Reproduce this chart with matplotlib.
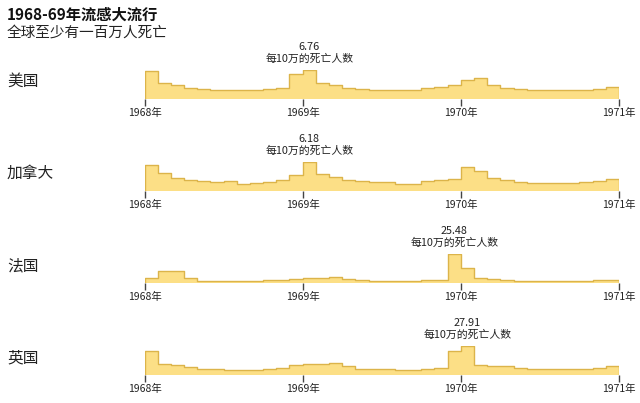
import numpy as np
import matplotlib.pyplot as plt

plt.rcParams['font.family'] = ['Noto Sans CJK SC', 'DejaVu Sans']

# 月度数据 1968年1月 - 1970年12月, 每10万的死亡人数
countries = ['美国', '加拿大', '法国', '英国']
us = [6.5, 3.75, 3.1, 2.5, 2.2, 2.1, 2.1, 2.1, 2.1, 2.3, 2.5, 5.9,
      6.76, 3.7, 3.2, 2.5, 2.2, 2.1, 2.1, 2.1, 2.1, 2.5, 2.8, 3.2,
      4.3, 4.8, 3.3, 2.5, 2.2, 2.0, 2.0, 2.0, 2.0, 2.1, 2.3, 2.8]
canada = [5.5, 3.8, 2.7, 2.2, 2.0, 1.75, 2.0, 1.5, 1.65, 1.9, 2.25, 3.4,
          6.18, 3.6, 2.9, 2.2, 2.0, 1.8, 1.8, 1.5, 1.5, 2.0, 2.2, 2.5,
          5.2, 4.2, 2.7, 2.2, 1.8, 1.6, 1.6, 1.6, 1.65, 1.9, 2.0, 2.4]
france = [3.7, 10.3, 10.3, 3.7, 1.6, 1.3, 1.3, 1.3, 1.3, 2.2, 2.5, 3.1,
          3.7, 4.0, 4.7, 3.1, 2.2, 1.3, 1.3, 1.3, 1.4, 1.9, 2.5, 25.48,
          13.0, 3.7, 3.1, 2.2, 1.6, 1.3, 1.3, 1.3, 1.3, 1.6, 1.9, 1.9]
uk = [23.4, 10.7, 9.7, 7.1, 5.5, 4.9, 4.5, 4.5, 4.5, 5.5, 6.5, 9.4,
      10.7, 10.4, 11.4, 8.1, 5.8, 5.5, 4.9, 4.5, 4.5, 5.2, 6.5, 22.7,
      27.91, 9.4, 8.8, 8.4, 6.5, 5.8, 5.5, 5.2, 5.2, 5.8, 6.5, 8.1]
series = [us, canada, france, uk]
year_labels = ['1968年', '1969年', '1970年', '1971年']

fill_c = '#fcdf86'
edge_c = '#dcb44a'
W, H = 640, 403

fig = plt.figure(figsize=(6.4, 4.03), dpi=100)
fig.text(7 / W, 1 - 15 / H, '1968-69年流感大流行', fontsize=11, fontweight='bold',
         color='#111111', va='center', ha='left')
fig.text(7 / W, 1 - 33 / H, '全球至少有一百万人死亡', fontsize=10.5,
         color='#222222', va='center', ha='left')

x0, x1 = 144.5, 619.0
bar_h = 28.5
for i, (name, vals) in enumerate(zip(countries, series)):
    base = 98.5 + 92 * i
    ax = fig.add_axes([x0 / W, 1 - base / H, (x1 - x0) / W, bar_h / H])
    n = len(vals)
    xs = np.arange(n + 1)
    ys = np.r_[vals, vals[-1]]
    ax.fill_between(xs, ys, step='post', color=fill_c, lw=0)
    ax.step(np.r_[0, xs, n], np.r_[0, ys, 0], where='post', color=edge_c, lw=1)
    vmax = max(vals)
    ax.set_xlim(0, n)
    ax.set_ylim(0, vmax)
    for s in ax.spines.values():
        s.set_visible(False)
    ax.set_yticks([])
    ax.set_xticks([0, 12, 24, 36])
    ax.set_xticklabels(year_labels, fontsize=7.5, color='#222222')
    ax.tick_params(axis='x', length=5, width=1, color='#444444', pad=2)
    k = int(np.argmax(vals))
    ax.annotate(f'{vmax:.2f}', xy=(k + 0.5, vmax), xytext=(0, 16.5),
                textcoords='offset points', ha='center', va='center',
                fontsize=7.8, color='#222222', annotation_clip=False)
    ax.annotate('每10万的死亡人数', xy=(k + 0.5, vmax), xytext=(0, 7.8),
                textcoords='offset points', ha='center', va='center',
                fontsize=7.8, color='#222222', annotation_clip=False)
    fig.text(7 / W, 1 - (base - 17) / H, name, fontsize=11.3,
             color='#222222', va='center', ha='left')

fig.savefig('out.png', dpi=100)
